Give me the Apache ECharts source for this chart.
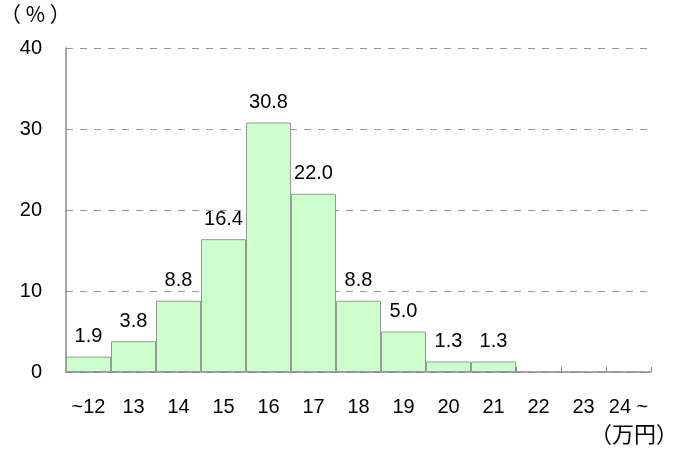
<!DOCTYPE html>
<html><head><meta charset="utf-8">
<script src="https://cdn.jsdelivr.net/npm/echarts@6/dist/echarts.min.js"></script>
<style>html,body{margin:0;padding:0;background:#fff}#c{width:679px;height:454px}</style>
</head><body><div id="c"></div>
<script>
const categories = ["~12","13","14","15","16","17","18","19","20","21","22","23","24 ~"];
const values = [1.9, 3.8, 8.8, 16.4, 30.8, 22.0, 8.8, 5.0, 1.3, 1.3, null, null, null];
const yTicks = [0, 10, 20, 30, 40];
const FONT = '"Liberation Sans", Arial, sans-serif';
const chart = echarts.init(document.getElementById('c'), null, {renderer:'canvas'});
chart.setOption({
  animation:false,
  grid:{left:66, right:28, top:48, bottom:82},
  graphic:[
    {type:'text', left:0, top:4, style:{text:'（ % ）', font:'21px "Noto Sans CJK JP", sans-serif', fill:'#000'}},
    {type:'text', left:590, top:423, style:{text:'（万円）', font:'22px "Noto Sans CJK JP", sans-serif', fill:'#000'}}
  ],
  xAxis:{
    type:'category', data:categories,
    axisLine:{lineStyle:{color:'#888', width:1.5}},
    axisTick:{show:true, inside:true, length:5, lineStyle:{color:'#888'}},
    axisLabel:{color:'#000', fontSize:20, fontFamily:FONT, margin:25, interval:0}
  },
  yAxis:{
    type:'value', min:yTicks[0], max:yTicks[yTicks.length-1], interval:10,
    axisLine:{show:true, lineStyle:{color:'#888', width:1.5}},
    axisTick:{show:false},
    axisLabel:{color:'#000', fontSize:20, fontFamily:FONT, margin:24},
    splitLine:{show:true, lineStyle:{color:'#999', type:[7,7], width:1}}
  },
  series:[{
    type:'bar', data:values, barCategoryGap:'0%',
    itemStyle:{color:'#ccffcc', borderColor:'#999', borderWidth:1},
    label:{show:true, position:'top', distance:10, color:'#000', fontSize:20, fontFamily:FONT,
      formatter:p=>p.value==null?'':p.value.toFixed(1)}
  }]
});
</script></body></html>
